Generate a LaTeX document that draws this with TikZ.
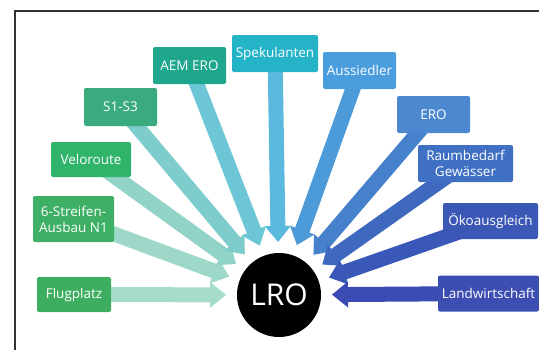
\documentclass[tikz,border=0pt]{standalone}
\usepackage{fontspec}
\setmainfont{Open Sans}
\usetikzlibrary{calc,backgrounds}
\definecolor{frameC}{HTML}{333333}
\definecolor{bFlug}{HTML}{3DAE5F}
\definecolor{bSechs}{HTML}{3DB065}
\definecolor{bVelo}{HTML}{30B36A}
\definecolor{bSeins}{HTML}{3AAB7F}
\definecolor{bAem}{HTML}{1EA78C}
\definecolor{bSpek}{HTML}{25B3C8}
\definecolor{bAus}{HTML}{4A9EDE}
\definecolor{bEro}{HTML}{4B88D0}
\definecolor{bRaum}{HTML}{3F70C4}
\definecolor{bOeko}{HTML}{3B58B6}
\definecolor{bLand}{HTML}{3D4EB3}
\definecolor{aFlug}{HTML}{A6DCCB}
\definecolor{aSechs}{HTML}{9ED8C9}
\definecolor{aVelo}{HTML}{92D3C8}
\definecolor{aSeins}{HTML}{7ECDCC}
\definecolor{aAem}{HTML}{6DC6D5}
\definecolor{aSpek}{HTML}{5CB9DE}
\definecolor{aAus}{HTML}{4C9AD8}
\definecolor{aEro}{HTML}{4681CC}
\definecolor{aRaum}{HTML}{3F69BF}
\definecolor{aOeko}{HTML}{3A58B8}
\definecolor{aLand}{HTML}{3A4BB3}
\newcommand\blockarrow[2]{%
  \path ($(lro)!53pt!(#1)$) coordinate (tip#1)
        ($(tip#1)!16pt!(#1)$) coordinate (base#1);
  \fill[#2] ($(#1)!7.5pt!90:(tip#1)$) -- ($(base#1)!7.5pt!-90:(#1)$)
     -- ($(base#1)!13pt!-90:(#1)$) -- (tip#1) -- ($(base#1)!13pt!90:(#1)$)
     -- ($(base#1)!7.5pt!90:(#1)$) -- ($(#1)!7.5pt!-90:(tip#1)$) -- cycle;}
\begin{document}
\begin{tikzpicture}[x=1pt,y=-1pt,
  labelbox/.style={rounded corners=2pt, inner sep=0pt, text=white, align=center,
    font=\fontsize{13.5}{16}\selectfont},
  ]
\useasboundingbox (0,0) rectangle (539,349);
\draw[frameC, line width=1.1pt] (15,360) -- (15,11) -- (550,11);

\node[labelbox, fill=bFlug,  minimum width=74pt, minimum height=35pt] (flug)  at (74,294.5)  {Flugplatz};
\node[labelbox, fill=bSechs, minimum width=81pt, minimum height=46pt] (sechs) at (73.5,219)  {6-Streifen-\\Ausbau N1};
\node[labelbox, fill=bVelo,  minimum width=80pt, minimum height=35pt] (velo)  at (91,159.5)  {Veloroute};
\node[labelbox, fill=bSeins, minimum width=73pt, minimum height=38pt] (seins) at (120.5,107) {S1-S3};
\node[labelbox, fill=bAem,   minimum width=73pt, minimum height=37pt] (aem)   at (189.5,65.5) {AEM ERO};
\node[labelbox, fill=bSpek,  minimum width=86pt, minimum height=37pt] (spek)  at (275,53.5)  {Spekulanten};
\node[labelbox, fill=bAus,   minimum width=73pt, minimum height=37pt] (aus)   at (359.5,70.5) {Aussiedler};
\node[labelbox, fill=bEro,   minimum width=73pt, minimum height=37pt] (ero)   at (433.5,114.5) {ERO};
\node[labelbox, fill=bRaum,  minimum width=95pt, minimum height=37pt] (raum)  at (465.5,163.5) {Raumbedarf\\Gewässer};
\node[labelbox, fill=bOeko,  minimum width=95pt, minimum height=36pt] (oeko)  at (490.5,221) {Ökoausgleich};
\node[labelbox, fill=bLand,  minimum width=101pt, minimum height=36pt] (land) at (488.5,293.5) {Landwirtschaft};

\node[circle, fill=black, minimum size=84pt, inner sep=0pt, text=white,
  font=\fontsize{30}{34}\selectfont] (lro) at (279,295) {LRO};

\begin{scope}[on background layer]
\blockarrow{flug}{aFlug}
\blockarrow{sechs}{aSechs}
\blockarrow{velo}{aVelo}
\blockarrow{seins}{aSeins}
\blockarrow{aem}{aAem}
\blockarrow{spek}{aSpek}
\blockarrow{aus}{aAus}
\blockarrow{ero}{aEro}
\blockarrow{raum}{aRaum}
\blockarrow{oeko}{aOeko}
\blockarrow{land}{aLand}
\end{scope}
\end{tikzpicture}
\end{document}
